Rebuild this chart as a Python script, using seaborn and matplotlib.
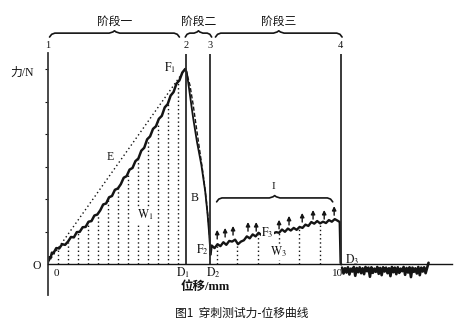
import numpy as np
import pandas as pd
import matplotlib
matplotlib.use("Agg")
import matplotlib.pyplot as plt
import seaborn as sns

sns.set_theme(style="white")
plt.rcParams["font.family"] = ["Liberation Serif", "Noto Sans CJK SC"]
plt.rcParams["mathtext.fontset"] = "stix"

# ---- data (displacement in mm, force in grid units) ----
# stage 1: loading up to the peak force F1
load_x = [0.0, 0.05, 0.1, 0.15, 0.2, 0.3, 0.4, 0.5, 0.6, 0.7, 0.8, 0.9, 1.0, 1.1, 1.2,
          1.3, 1.4, 1.5, 1.6, 1.7, 1.8, 1.9, 2.0, 2.1, 2.2, 2.3, 2.4, 2.5, 2.6, 2.7,
          2.8, 2.9, 3.0, 3.1, 3.2, 3.3, 3.4, 3.5, 3.6, 3.7, 3.8, 3.9, 4.0, 4.1, 4.2,
          4.3, 4.4, 4.5, 4.6, 4.7]
load_y = [0.00, 0.22, 0.18, 0.36, 0.34, 0.50, 0.49, 0.62, 0.60, 0.70, 0.84, 0.83, 0.99,
          1.00, 1.14, 1.15, 1.31, 1.33, 1.50, 1.53, 1.66, 1.84, 1.87, 2.06, 2.10, 2.29,
          2.33, 2.46, 2.66, 2.71, 2.91, 2.96, 3.17, 3.25, 3.49, 3.58, 3.84, 3.93, 4.16,
          4.24, 4.47, 4.56, 4.82, 4.92, 5.18, 5.29, 5.55, 5.65, 5.89, 6.00]

# secant line E from the origin to the peak
secant_x = [0.05, 4.70]
secant_y = [0.10, 6.00]

# stage 2: force drop after puncture (measured and reference)
drop_x = [4.70, 4.75, 4.86, 4.97, 5.10, 5.25, 5.38, 5.46, 5.51, 5.54, 5.56]
drop_y = [6.00, 5.91, 5.20, 4.49, 3.76, 3.05, 2.25, 1.55, 1.00, 0.60, 0.30]
drop_ref_x = [4.72, 4.86, 4.97, 5.08, 5.20, 5.32, 5.42, 5.49, 5.54, 5.57]
drop_ref_y = [5.97, 5.50, 4.90, 4.20, 3.45, 2.70, 1.95, 1.30, 0.75, 0.35]

# stage 3: friction plateau up to exit
fric_x = [5.56, 5.60, 5.70, 5.80, 5.90, 6.00, 6.10, 6.20, 6.30, 6.40, 6.50, 6.60, 6.70,
          6.80, 6.90, 7.00, 7.10, 7.20, 7.30, 7.40, 7.50, 7.60, 7.70, 7.80, 7.90, 8.00,
          8.10, 8.20, 8.30, 8.40, 8.50, 8.60, 8.70, 8.80, 8.90, 9.00, 9.10, 9.20, 9.30,
          9.40, 9.50, 9.60, 9.70, 9.80, 9.90, 9.97, 10.00, 10.02]
fric_y = [0.30, 0.58, 0.50, 0.62, 0.56, 0.68, 0.60, 0.72, 0.70, 0.76, 0.62, 0.70, 0.74,
          0.86, 0.80, 0.92, 0.86, 0.97, 0.90, 0.99, 0.93, 1.02, 0.95, 0.99, 0.97, 1.07,
          1.00, 1.10, 1.04, 1.12, 1.06, 1.15, 1.12, 1.22, 1.18, 1.30, 1.25, 1.33, 1.26,
          1.31, 1.27, 1.36, 1.31, 1.39, 1.34, 1.30, 0.05, 0.00]

# after exit: residual noise around zero
tail_y = [-0.10, -0.28, -0.12, -0.25, -0.09, -0.31, -0.13, -0.22, -0.08, -0.35, -0.11,
          -0.24, -0.09, -0.27, -0.12, -0.30, -0.08, -0.21, -0.10, -0.38, -0.09, -0.26,
          -0.13, -0.23, -0.08, -0.29, -0.11, -0.33, -0.09, -0.22, -0.10, -0.27, -0.12,
          -0.36, -0.08, -0.24, -0.10, -0.30, -0.09, -0.26, -0.13, -0.21, -0.08, -0.32,
          -0.11, -0.25, -0.09, -0.39, -0.10, -0.23, -0.12, -0.28, -0.08, -0.33, -0.10,
          -0.22, -0.09, -0.27, -0.11, 0.05]
tail_x = np.linspace(10.05, 13.0, len(tail_y))

# stage boundaries and names
stage_edges = [0.0, 4.72, 5.56, 10.0]
stage_nums = ["1", "2", "3", "4"]
stage_names = ["阶段一", "阶段二", "阶段三"]

# integration strips under the curves
w1_x = [0.36, 0.70, 1.04, 1.38, 1.72, 2.06, 2.40, 2.74, 3.08, 3.42, 3.76, 4.10, 4.44]
w3_x = [5.79, 6.47, 7.18, 7.90, 8.58, 9.30]

# rising force marks in stage 3 (arrow tips)
arrow_x = [5.79, 6.06, 6.33, 6.84, 7.12, 7.90, 8.24, 8.69, 9.06, 9.44, 9.78]
arrow_tip = [1.06, 1.12, 1.18, 1.30, 1.30, 1.37, 1.49, 1.58, 1.67, 1.67, 1.79]

# ---- figure ----
fig = plt.figure(figsize=(4.7, 3.33), dpi=100)
ax = fig.add_axes([47.5 / 470, 38 / 333, 404.5 / 470, 242 / 333])
ax.set_xlim(0, 13.8)
ax.set_ylim(-0.94, 6.49)

ink = "#141414"

def curve(x, y, **kw):
    df = pd.DataFrame({"x": x, "y": y})
    sns.lineplot(data=df, x="x", y="y", ax=ax, sort=False, estimator=None,
                 legend=False, **kw)

curve(load_x, load_y, color=ink, lw=1.8)
curve(secant_x, secant_y, color=ink, lw=1.0, linestyle=(0, (1, 2)))
curve(drop_x, drop_y, color=ink, lw=1.3)
curve(drop_ref_x, drop_ref_y, color=ink, lw=1.0, linestyle=(0, (3, 1.5)))
curve(fric_x, fric_y, color=ink, lw=1.7)
curve(tail_x, tail_y, color=ink, lw=1.9)

# dotted strips
for hx in w1_x:
    ax.plot([hx, hx], [0, np.interp(hx, load_x, load_y)], color=ink, lw=1.0,
            linestyle=(0, (1, 2)))
for hx in w3_x:
    ax.plot([hx, hx], [0, np.interp(hx, fric_x, fric_y)], color=ink, lw=1.0,
            linestyle=(0, (1, 2)))

# arrows
for axx, tip in zip(arrow_x, arrow_tip):
    ax.annotate("", xy=(axx, tip), xytext=(axx, tip - 0.28),
                arrowprops=dict(arrowstyle="-|>", color=ink, lw=1.0,
                                mutation_scale=6, shrinkA=0, shrinkB=0))

# stage boundary lines
ax.vlines(stage_edges[1:], 0, 6.45, color="#2a2a2a", lw=1.3)
for xe, lab in zip(stage_edges, stage_nums):
    ax.text(xe, 6.73, lab, ha="center", va="center", fontsize=7.5, color=ink,
            clip_on=False)

def brace(x0, x1, y, h=0.12):
    xm = (x0 + x1) / 2
    d = min(0.18, (x1 - x0) / 6)
    xs = [x0, x0 + d * 0.4, x0 + d, xm - d, xm - d * 0.3, xm, xm + d * 0.3, xm + d,
          x1 - d, x1 - d * 0.4, x1]
    ys = [y - h, y - h * 0.3, y, y, y + h * 0.3, y + h * 0.6, y + h * 0.3, y, y,
          y - h * 0.3, y - h]
    ax.plot(xs, ys, color=ink, lw=1.2, clip_on=False, solid_capstyle="round")

brace_spans = [(0.07, 4.50), (4.70, 5.60), (5.73, 10.05)]
for (b0, b1), name in zip(brace_spans, stage_names):
    brace(b0, b1, 7.10)
    ax.text((b0 + b1) / 2, 7.47, name, ha="center", va="center", fontsize=8.5,
            color=ink, family=["Noto Sans CJK SC"], clip_on=False)

brace(5.77, 9.73, 2.04)
ax.text(7.70, 2.38, "I", ha="center", va="center", fontsize=8, color=ink)

# labels
lab_kw = dict(ha="center", va="center", color=ink, fontsize=8.5, clip_on=False)
box = dict(facecolor="white", edgecolor="none", pad=0.3)
ax.text(-0.87, 5.87, "力/N", **lab_kw)
ax.text(-0.36, -0.05, "O", **lab_kw)
ax.text(0.29, -0.29, "0", **{**lab_kw, "fontsize": 8})
ax.text(4.18, 6.03, r"$\mathrm{F_1}$", **lab_kw)
ax.text(2.13, 3.30, "E", **lab_kw)
ax.text(3.33, 1.52, r"$\mathrm{W_1}$", bbox=box, **lab_kw)
ax.text(5.03, 2.04, "B", **lab_kw)
ax.text(5.27, 0.44, r"$\mathrm{F_2}$", **lab_kw)
ax.text(4.62, -0.26, r"$\mathrm{D_1}$", **lab_kw)
ax.text(5.65, -0.26, r"$\mathrm{D_2}$", **lab_kw)
ax.text(7.50, 0.97, r"$\mathrm{F_3}$", bbox=box, **lab_kw)
ax.text(7.87, 0.38, r"$\mathrm{W_3}$", bbox=box, **lab_kw)
ax.text(9.88, -0.29, "10", **{**lab_kw, "fontsize": 8})
ax.text(10.39, 0.14, r"$\mathrm{D_3}$", **lab_kw)

# axes styling
for s in ["top", "right"]:
    ax.spines[s].set_visible(False)
ax.spines["bottom"].set_position(("data", 0))
ax.spines["left"].set_color("#3a3a3a")
ax.spines["bottom"].set_color(ink)
ax.spines["left"].set_linewidth(1.3)
ax.spines["bottom"].set_linewidth(1.0)
ax.set_xticks([])
ax.set_yticks([1, 2, 3, 4, 5, 6])
ax.set_yticklabels([])
ax.tick_params(axis="y", direction="out", length=2, width=0.8, color=ink, left=True)
ax.set_xlabel("")
ax.set_ylabel("")

fig.text(205 / 470, 1 - 287 / 333, "位移/mm", ha="center", va="center",
         fontsize=9, weight="bold", color=ink)
fig.text(242 / 470, 1 - 313 / 333, "图1  穿刺测试力-位移曲线", ha="center", va="center",
         fontsize=8.5, color=ink, family=["Noto Sans CJK SC", "Liberation Serif"])

fig.savefig("out.png", dpi=100)
